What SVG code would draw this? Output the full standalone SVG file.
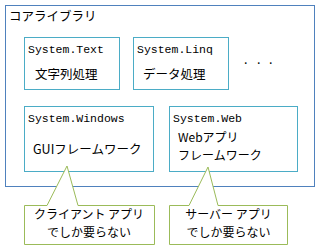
<svg xmlns="http://www.w3.org/2000/svg" width="320" height="250" viewBox="0 0 320 250">
<style>
.core{fill:#fff;stroke:#4F81BD;stroke-width:1}
.ns{fill:#fff;stroke:#4BACC6;stroke-width:1}
.call{fill:#fff;stroke:#9BBB59;stroke-width:1}
.mono{font-family:"Liberation Mono","DejaVu Sans Mono",monospace;font-size:11.5px;fill:#000}
.jp{font-family:"Noto Sans CJK JP","Noto Sans",sans-serif;font-size:12.5px;fill:#000}
.jp2{font-family:"Noto Sans CJK JP","Noto Sans",sans-serif;font-size:12px;fill:#000}
.c{text-anchor:middle}
</style>
<rect width="320" height="250" fill="#fff"/>
<g id="core">
<rect class="core" x="5.5" y="5.5" width="309" height="181"/>
<text class="jp" x="9" y="21">コアライブラリ</text>
</g>
<g id="system-text">
<rect class="ns" x="24.5" y="37.5" width="95" height="52"/>
<text class="mono" x="28" y="53">System.Text</text>
<text class="jp" x="35" y="79">文字列処理</text>
</g>
<g id="system-linq">
<rect class="ns" x="133.5" y="37.5" width="95" height="52"/>
<text class="mono" x="137" y="53">System.Linq</text>
<text class="jp" x="143" y="79">データ処理</text>
</g>
<g id="more">
<text class="jp" x="244 257 269" y="64">...</text>
</g>
<g id="system-windows">
<rect class="ns" x="24.5" y="106.5" width="129" height="65"/>
<text class="mono" x="28" y="122">System.Windows</text>
<text class="jp" x="33" y="154">GUIフレームワーク</text>
</g>
<g id="system-web">
<rect class="ns" x="169.5" y="106.5" width="128" height="65"/>
<text class="mono" x="173" y="122">System.Web</text>
<text class="jp2" x="178" y="142">Webアプリ</text>
<text class="jp2" x="178" y="160">フレームワーク</text>
</g>
<g id="connectors">
<g id="callout-client">
<path class="call" d="M24.5,205.5 H47 L67,166 L78,205.5 H154.5 V244.5 H24.5 Z"/>
<text class="jp2 c" x="89" y="219">クライアント アプリ</text>
<text class="jp2 c" x="89" y="237">でしか要らない</text>
</g>
<g id="callout-server">
<path class="call" d="M169.5,205.5 H189 L208,167 L218,205.5 H287.5 V244.5 H169.5 Z"/>
<text class="jp2 c" x="228.5" y="219">サーバー アプリ</text>
<text class="jp2 c" x="228.5" y="237">でしか要らない</text>
</g>
</g>
</svg>
